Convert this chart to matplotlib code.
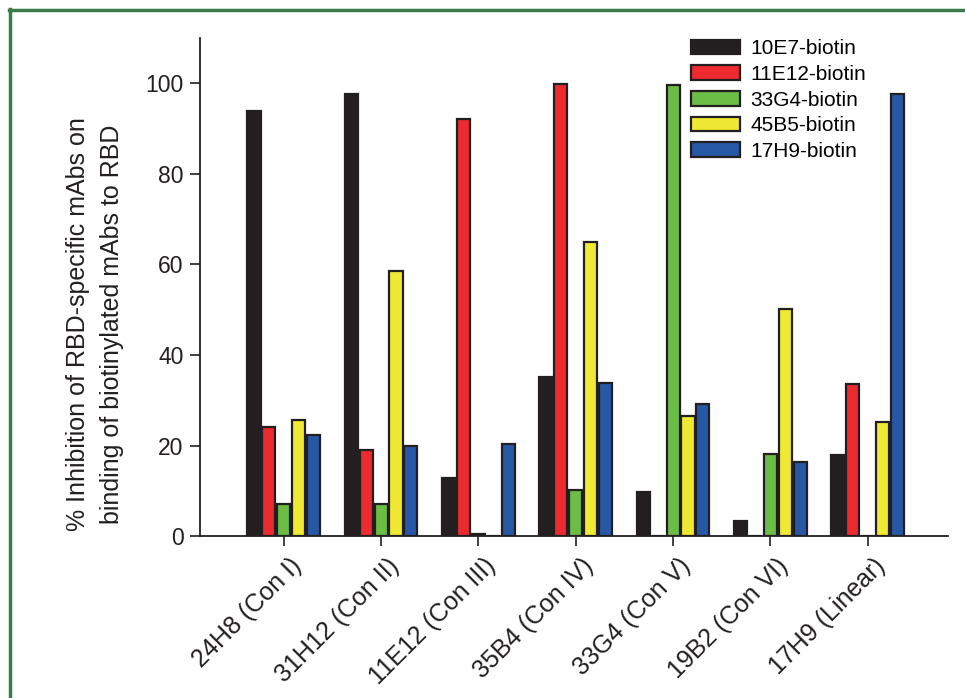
import matplotlib
matplotlib.use("Agg")
import matplotlib.pyplot as plt
import numpy as np
from matplotlib.lines import Line2D
from matplotlib.transforms import ScaledTranslation

plt.rcParams['font.family'] = ['Liberation Sans', 'DejaVu Sans']

categories = ["24H8 (Con I)", "31H12 (Con II)", "11E12 (Con III)", "35B4 (Con IV)",
              "33G4 (Con V)", "19B2 (Con VI)", "17H9 (Linear)"]
series_names = ["10E7-biotin", "11E12-biotin", "33G4-biotin", "45B5-biotin", "17H9-biotin"]
v_10E7 = [93.8, 97.6, 12.8, 35.1, 9.7, 3.3, 17.9]
v_11E12 = [24.1, 19.0, 92.0, 99.8, 0.0, 0.0, 33.5]
v_33G4 = [7.1, 7.1, 0.5, 10.2, 99.6, 18.1, 0.0]
v_45B5 = [25.6, 58.5, 0.0, 64.9, 26.5, 50.1, 25.2]
v_17H9 = [22.3, 19.9, 20.3, 33.8, 29.1, 16.3, 97.6]
series = [v_10E7, v_11E12, v_33G4, v_45B5, v_17H9]
colors = ["#231f20", "#ed2a30", "#6bbd45", "#f0e933", "#2758a6"]
edge = "#231f20"
txt = "#231f20"

fig = plt.figure(figsize=(9.65, 6.98), dpi=100)
ax = fig.add_axes([0.2073, 0.232, 0.982 - 0.2073, 0.9456 - 0.232])

x = np.arange(len(categories))
step = 0.153
bw = 0.135
for i, (vals, c, name) in enumerate(zip(series, colors, series_names)):
    off = (i - 2) * step
    ax.bar(x + off, vals, width=bw, color=c, edgecolor=edge, linewidth=1.6, label=name,
           zorder=3)

ax.set_xlim(-0.86, 6.82)
ax.set_ylim(0, 110)
ax.set_yticks([0, 20, 40, 60, 80, 100])
ax.set_xticks(x)
ax.set_xticklabels([''] * len(categories))
offset = ScaledTranslation(14 / 100, -26 / 100, fig.dpi_scale_trans)
for xi, cat in zip(x, categories):
    ax.text(xi, 0, cat, transform=ax.get_xaxis_transform() + offset, rotation=45,
            ha='right', va='center', rotation_mode='anchor', fontsize=18, color=txt)
for lab in ax.get_yticklabels():
    lab.set_fontsize(16.5)
    lab.set_color(txt)
ax.tick_params(axis='both', direction='out', length=7, width=1.2, color=txt)
ax.tick_params(axis='y', pad=5)
for s in ['top', 'right']:
    ax.spines[s].set_visible(False)
for s in ['left', 'bottom']:
    ax.spines[s].set_linewidth(1.3)
    ax.spines[s].set_color(txt)

fig.text(95 / 965, 1 - 324 / 698,
         "% Inhibition of RBD-specific mAbs on\nbinding of biotinylated mAbs to RBD",
         rotation=90, ha='center', va='center', multialignment='center',
         fontsize=18, color=txt, linespacing=1.55)

leg = ax.legend(loc='upper left', bbox_to_anchor=(0.632, 1.035), frameon=False, fontsize=15,
                handlelength=2.35, handleheight=0.72, labelspacing=0.32, handletextpad=0.5)

# green frame lines (top and left)
fig.add_artist(Line2D([9 / 965, 1.0], [1 - 10 / 698, 1 - 10 / 698], color='#3b7a4b',
                      linewidth=2.5, transform=fig.transFigure))
fig.add_artist(Line2D([10 / 965, 10 / 965], [0, 1 - 9 / 698], color='#3b7a4b',
                      linewidth=2.5, transform=fig.transFigure))

fig.savefig("out.png", dpi=100)
